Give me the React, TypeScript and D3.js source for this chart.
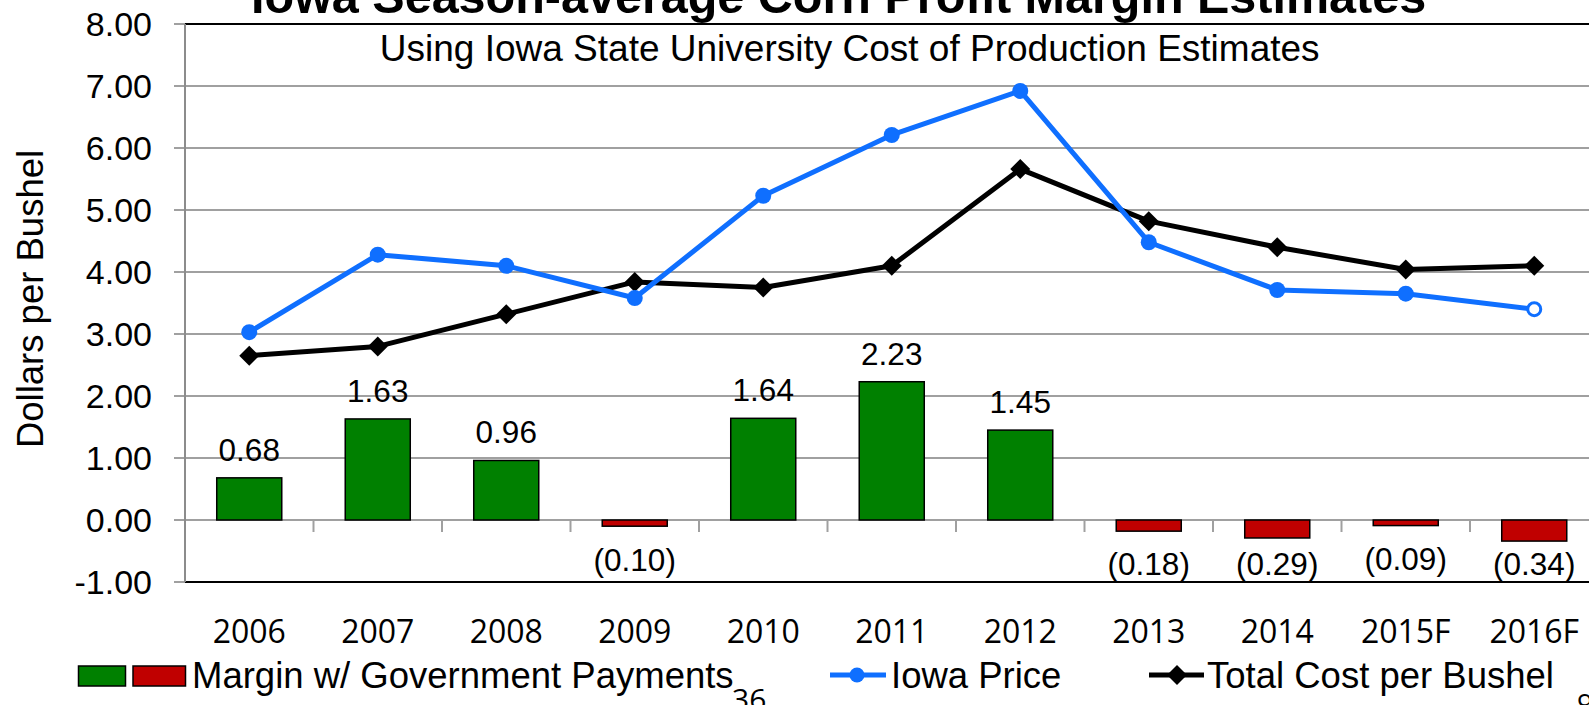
import React from "react";
import * as d3 from "d3";

const categories = ["2006", "2007", "2008", "2009", "2010", "2011", "2012", "2013", "2014", "2015F", "2016F"];
const margins = [0.68, 1.63, 0.96, -0.1, 1.64, 2.23, 1.45, -0.18, -0.29, -0.09, -0.34];
const iowaPrice = [3.03, 4.28, 4.1, 3.58, 5.23, 6.21, 6.92, 4.48, 3.71, 3.65, 3.4];
const totalCost = [2.65, 2.8, 3.32, 3.84, 3.75, 4.1, 5.66, 4.82, 4.4, 4.04, 4.1];
const yTicks = [-1, 0, 1, 2, 3, 4, 5, 6, 7, 8];
const forecastFromIndex = 10; // open marker for the last price point

const W = 1589;
const H = 705;
const ARIAL = "'Liberation Sans', Arial, sans-serif";
const CAL = "'Open Sans', 'Noto Sans', sans-serif";
const BLUE = "#0F6FFF";
const GREEN = "#008000";
const RED = "#C00000";

const fmt = (v: number) => (v < 0 ? `(${Math.abs(v).toFixed(2)})` : v.toFixed(2));

export default function App() {
  const left = 185;
  const band = 128.5;
  const x = d3.scaleBand<string>().domain(categories).range([left, left + band * categories.length]).padding(0);
  const y = d3.scaleLinear().domain([-1, 8]).range([582, 24]);
  const bw = x.bandwidth() * 0.506;
  const cx = (c: string) => (x(c) as number) + x.bandwidth() / 2;
  const right = left + band * categories.length;

  const line = d3
    .line<number>()
    .x((_, i) => cx(categories[i]))
    .y((d) => y(d));

  const diamond = (px: number, py: number, r: number) =>
    `M${px},${py - r}L${px + r},${py}L${px},${py + r}L${px - r},${py}Z`;

  return (
    <svg width={W} height={H} style={{ position: "absolute", left: 0, top: 0, background: "#fff" }}>
      <rect x={0} y={0} width={W} height={H} fill="#fff" />
      {/* gridlines */}
      {yTicks.map((t) => (
        <line key={"g" + t} x1={left - 11} x2={right} y1={y(t)} y2={y(t)} stroke="#a0a0a0" strokeWidth={2} />
      ))}
      {/* top / bottom borders */}
      <line x1={left} x2={right} y1={y(8)} y2={y(8)} stroke="#000" strokeWidth={2.2} />
      <line x1={left} x2={right} y1={y(-1)} y2={y(-1)} stroke="#000" strokeWidth={2.2} />
      {/* y axis */}
      <line x1={left} x2={left} y1={y(8)} y2={y(-1)} stroke="#8c8c8c" strokeWidth={2} />
      {/* category ticks on zero line */}
      {categories.map((c, i) =>
        i === 0 ? null : (
          <line key={"xt" + c} x1={x(c) as number} x2={x(c) as number} y1={y(0)} y2={y(0) + 12} stroke="#a0a0a0" strokeWidth={2} />
        )
      )}
      {/* y tick labels */}
      {yTicks.map((t) => (
        <text key={"yl" + t} x={152} y={y(t)} dy="0.36em" textAnchor="end" fontFamily={ARIAL} fontSize={34} fill="#000">
          {t.toFixed(2)}
        </text>
      ))}
      {/* y axis title */}
      <text
        transform={`translate(43,299) rotate(-90)`}
        textAnchor="middle"
        fontFamily={ARIAL}
        fontSize={36.5}
        fill="#000"
      >
        Dollars per Bushel
      </text>
      {/* bars */}
      {margins.map((v, i) => {
        const c = categories[i];
        const y0 = y(0);
        const y1 = y(v);
        return (
          <rect
            key={"b" + c}
            x={cx(c) - bw / 2}
            y={Math.min(y0, y1)}
            width={bw}
            height={Math.abs(y1 - y0)}
            fill={v >= 0 ? GREEN : RED}
            stroke="#000"
            strokeWidth={1.5}
          />
        );
      })}
      {/* bar labels */}
      {margins.map((v, i) => {
        const c = categories[i];
        const yl = v >= 0 ? y(v) - 28.5 : Math.min(y(v) + 33, 564);
        return (
          <text key={"bl" + c} x={cx(c)} y={yl} dy="0.36em" textAnchor="middle" fontFamily={ARIAL} fontSize={31.5} fill="#000">
            {fmt(v)}
          </text>
        );
      })}
      {/* total cost line */}
      <path d={line(totalCost) as string} fill="none" stroke="#000" strokeWidth={5} strokeLinejoin="round" />
      {totalCost.map((v, i) => (
        <path key={"d" + i} d={diamond(cx(categories[i]), y(v), 10)} fill="#000" />
      ))}
      {/* iowa price line */}
      <path d={line(iowaPrice) as string} fill="none" stroke={BLUE} strokeWidth={5} strokeLinejoin="round" />
      {iowaPrice.map((v, i) =>
        i >= forecastFromIndex ? (
          <circle key={"c" + i} cx={cx(categories[i])} cy={y(v)} r={6.5} fill="#fff" stroke={BLUE} strokeWidth={3} />
        ) : (
          <circle key={"c" + i} cx={cx(categories[i])} cy={y(v)} r={8} fill={BLUE} />
        )
      )}
      {/* x labels */}
      {categories.map((c) => (
        <text key={"xl" + c} x={cx(c)} y={643} textAnchor="middle" fontFamily={CAL} fontSize={32} fill="#000">
          {c}
        </text>
      ))}
      {/* titles */}
      <text x={838.6} y={13} textAnchor="middle" fontFamily={ARIAL} fontWeight="bold" fontSize={48.5} fill="#000">
        Iowa Season-average Corn Profit Margin Estimates
      </text>
      <text x={849.7} y={61} textAnchor="middle" fontFamily={ARIAL} fontSize={37} fill="#000">
        Using Iowa State University Cost of Production Estimates
      </text>
      {/* legend */}
      <rect x={78.5} y={666} width={47} height={20} fill={GREEN} stroke="#000" strokeWidth={1.5} />
      <rect x={133} y={666} width={52.5} height={20} fill={RED} stroke="#000" strokeWidth={1.5} />
      <text x={192} y={688} fontFamily={ARIAL} fontSize={36.5} fill="#000">
        Margin w/ Government Payments
      </text>
      <line x1={830} x2={886} y1={675} y2={675} stroke={BLUE} strokeWidth={5} />
      <circle cx={857} cy={675} r={7.5} fill={BLUE} />
      <text x={891} y={688} fontFamily={ARIAL} fontSize={36.5} fill="#000">
        Iowa Price
      </text>
      <line x1={1149} x2={1204} y1={675} y2={675} stroke="#000" strokeWidth={5} />
      <path d={diamond(1177, 675, 10)} fill="#000" />
      <text x={1207} y={688} fontFamily={ARIAL} fontSize={36.5} fill="#000">
        Total Cost per Bushel
      </text>
      {/* slide artefacts */}
      <text x={732} y={710} fontFamily={CAL} fontSize={30} fill="#000">
        36
      </text>
      <text x={1577} y={714} fontFamily={CAL} fontSize={28} fill="#000">
        9
      </text>
    </svg>
  );
}
